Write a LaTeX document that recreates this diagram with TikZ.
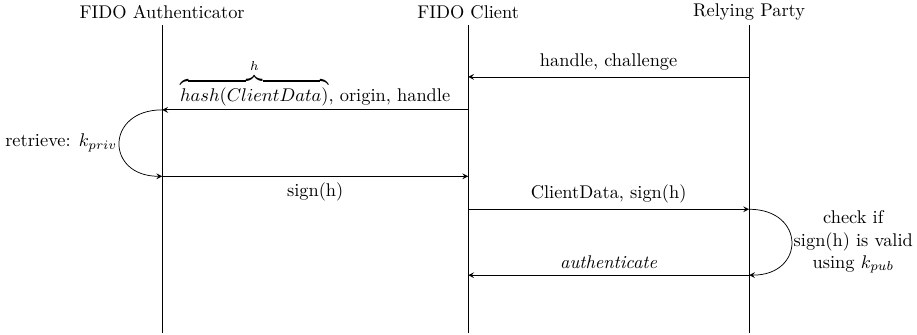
\documentclass[tikz,border=0pt]{standalone}
\usepackage{amsmath}
\usepackage{tikz}
\usetikzlibrary{positioning}

\begin{document}
\begin{tikzpicture}[>=stealth, msg/.style={->}]
            \useasboundingbox (0,0) rectangle (17.53,-6.40);

            \node (fa) at (3.10,-0.23) {FIDO Authenticator};
            \node (fc) at (8.95,-0.23) {FIDO Client};
            \node (rp) at (14.32,-0.23) {Relying Party};

            % lifelines
            \coordinate (fa0) at (3.10,-0.48);
            \coordinate (fc0) at (8.95,-0.48);
            \coordinate (rp0) at (14.32,-0.48);
            \coordinate (fa9) at (3.10,-6.37);
            \coordinate (fc9) at (8.95,-6.37);
            \coordinate (rp9) at (14.32,-6.37);
            \draw (fa0) -- (fa9);
            \draw (fc0) -- (fc9);
            \draw (rp0) -- (rp9);

            % message points
            \coordinate (rp1) at (14.32,-1.47);
            \coordinate (fc1) at (8.95,-1.47);
            \coordinate (fc2) at (8.95,-2.10);
            \coordinate (fa2) at (3.10,-2.10);
            \coordinate (fa3) at (3.10,-3.37);
            \coordinate (fc3) at (8.95,-3.37);
            \coordinate (fc4) at (8.95,-4.00);
            \coordinate (rp4) at (14.32,-4.00);
            \coordinate (rp5) at (14.32,-5.26);
            \coordinate (fc5) at (8.95,-5.26);

            \draw [msg] (rp1) to node [above] {handle, challenge} (fc1);
            \draw [msg] (fc2) to node [above, inner sep=2pt] {$\overbrace{hash(ClientData)}^{h}$, origin, handle} (fa2);
            \draw [msg] (fa2) to [out=180, in=180, looseness=2.2] node [left, inner sep=1pt] {retrieve: $k_{priv}$} (fa3);
            \draw [msg] (fa3) to node [below] {sign(h)} (fc3);
            \draw [msg] (fc4) to node [above] {ClientData, sign(h)} (rp4);
            \draw [msg] (rp4) to [out=0, in=0, looseness=2.2] node [right, align=center, inner sep=1pt] {check if\\sign(h) is valid\\using $k_{pub}$} (rp5);
            \draw [msg] (rp5) to node [above] {\textit{authenticate}} (fc5);
        \end{tikzpicture}
\end{document}
